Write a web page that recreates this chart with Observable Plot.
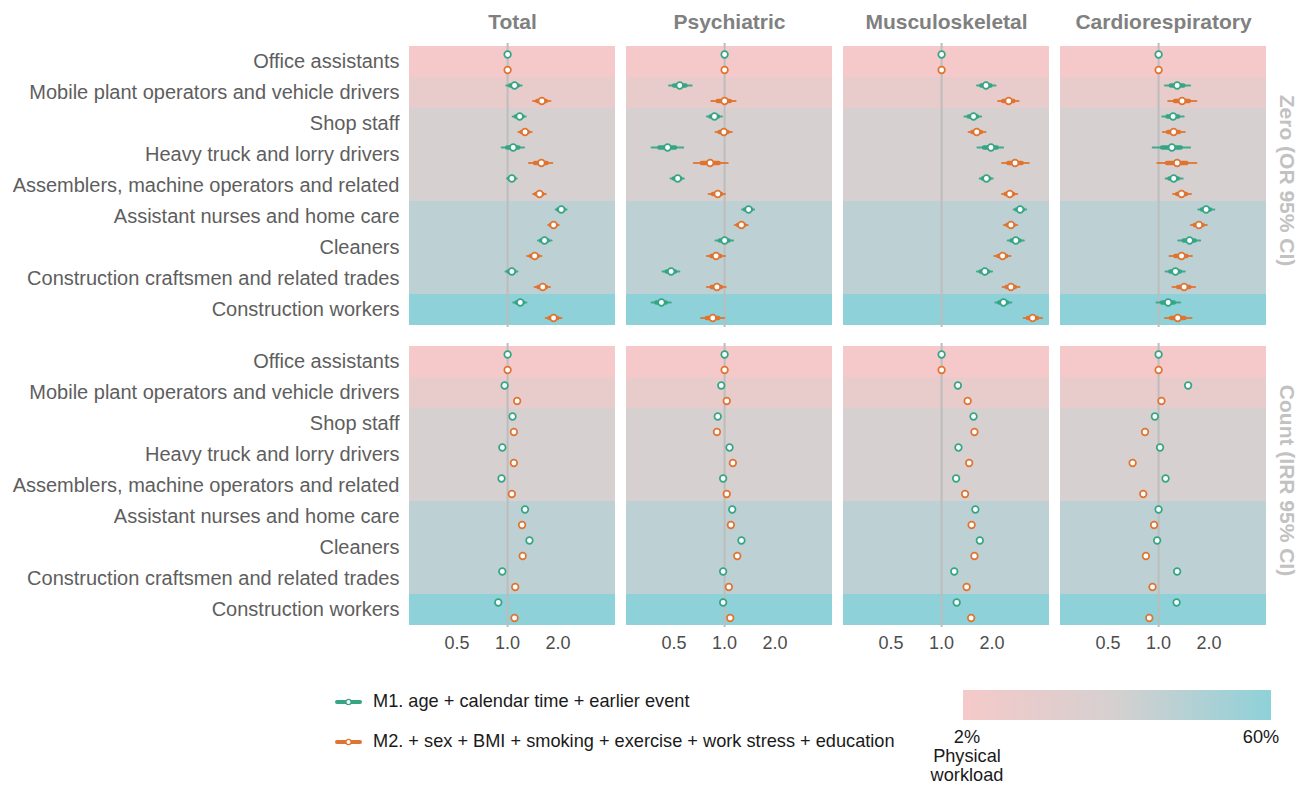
<!DOCTYPE html>
<html><head><meta charset="utf-8">
<script src="https://cdn.jsdelivr.net/npm/d3@7"></script>
<script src="https://cdn.jsdelivr.net/npm/@observablehq/plot@0.6"></script>
<style>
body{margin:0;background:#fff;font-family:"Liberation Sans",Arial,sans-serif;}
#wrap{position:relative;width:1311px;height:785px;overflow:hidden;}
.lg{position:absolute;font-size:18.2px;color:#1a1a1a;white-space:nowrap;}
</style></head><body>
<div id="wrap"><div id="chart"></div></div>
<script>
const occupations = ["Office assistants","Mobile plant operators and vehicle drivers","Shop staff","Heavy truck and lorry drivers","Assemblers, machine operators and related","Assistant nurses and home care","Cleaners","Construction craftsmen and related trades","Construction workers"];
const workload = [2, 14, 29, 29, 29, 41, 41, 41, 60];
const outcomes = ["Total","Psychiatric","Musculoskeletal","Cardiorespiratory"];
const rowTypes = ["Zero","Count"];
const rowLabels = ["Zero (OR 95% CI)","Count (IRR 95% CI)"];
const models = ["M1","M2"];
const modelLabels = ["M1. age + calendar time + earlier event","M2. + sex + BMI + smoking + exercise + work stress + education"];
const xTicks = [0.5, 1, 2];
const legendTicks = ["2%","60%"];

// Zero part: [estimate, lower 95%, upper 95%]
const zeroTotalM1 = [[1,1,1],[1.10,0.99,1.22],[1.18,1.08,1.29],[1.08,0.93,1.26],[1.06,1.00,1.14],[2.09,1.95,2.26],[1.66,1.53,1.84],[1.06,0.98,1.15],[1.19,1.09,1.30]];
const zeroTotalM2 = [[1,1,1],[1.60,1.43,1.81],[1.27,1.17,1.40],[1.59,1.35,1.86],[1.55,1.43,1.70],[1.88,1.76,2.03],[1.45,1.32,1.60],[1.62,1.46,1.80],[1.88,1.70,2.11]];
const zeroPsychM1 = [[1,1,1],[0.54,0.47,0.64],[0.87,0.79,0.97],[0.457,0.37,0.57],[0.525,0.48,0.575],[1.39,1.28,1.51],[1.0,0.89,1.13],[0.48,0.43,0.54],[0.42,0.37,0.48]];
const zeroPsychM2 = [[1,1,1],[1.0,0.84,1.17],[0.99,0.89,1.11],[0.82,0.66,1.05],[0.91,0.81,1.01],[1.26,1.16,1.38],[0.89,0.79,1.01],[0.90,0.79,1.02],[0.85,0.73,1.0]];
const zeroMuscM1 = [[1,1,1],[1.84,1.64,2.11],[1.55,1.38,1.73],[1.97,1.65,2.34],[1.85,1.70,2.03],[2.94,2.71,3.21],[2.77,2.50,3.11],[1.81,1.64,2.01],[2.34,2.11,2.62]];
const zeroMuscM2 = [[1,1,1],[2.51,2.19,2.90],[1.62,1.46,1.84],[2.74,2.31,3.33],[2.55,2.31,2.84],[2.59,2.37,2.84],[2.31,2.08,2.59],[2.59,2.33,2.93],[3.49,3.11,4.0]];
const zeroCardM1 = [[1,1,1],[1.29,1.10,1.55],[1.22,1.06,1.42],[1.20,0.93,1.55],[1.23,1.11,1.40],[1.92,1.74,2.16],[1.53,1.32,1.78],[1.26,1.11,1.44],[1.14,0.98,1.35]];
const zeroCardM2 = [[1,1,1],[1.38,1.15,1.69],[1.23,1.07,1.44],[1.29,0.99,1.69],[1.37,1.23,1.57],[1.74,1.57,1.95],[1.37,1.17,1.59],[1.42,1.22,1.66],[1.30,1.10,1.58]];

// Count part: estimate only
const countTotalM1 = [1.0,0.96,1.07,0.93,0.92,1.27,1.35,0.93,0.88];
const countTotalM2 = [1.0,1.14,1.09,1.09,1.06,1.22,1.23,1.11,1.10];
const countPsychM1 = [1.0,0.955,0.91,1.07,0.98,1.11,1.26,0.98,0.98];
const countPsychM2 = [1.0,1.03,0.90,1.12,1.03,1.09,1.19,1.06,1.08];
const countMuscM1 = [1.0,1.25,1.55,1.26,1.22,1.59,1.69,1.19,1.23];
const countMuscM2 = [1.0,1.43,1.57,1.46,1.38,1.51,1.57,1.41,1.50];
const countCardM1 = [1.0,1.50,0.95,1.02,1.10,1.0,0.98,1.29,1.28];
const countCardM2 = [1.0,1.04,0.83,0.70,0.81,0.94,0.84,0.92,0.88];

const zeroSets = {Total:[zeroTotalM1,zeroTotalM2],Psychiatric:[zeroPsychM1,zeroPsychM2],Musculoskeletal:[zeroMuscM1,zeroMuscM2],Cardiorespiratory:[zeroCardM1,zeroCardM2]};
const countSets = {Total:[countTotalM1,countTotalM2],Psychiatric:[countPsychM1,countPsychM2],Musculoskeletal:[countMuscM1,countMuscM2],Cardiorespiratory:[countCardM1,countCardM2]};

const modelColors = ["#35a584","#df7430"];
const rows = [];
outcomes.forEach(o => {
  models.forEach((m, mi) => {
    zeroSets[o][mi].forEach((v, i) => rows.push({fx:o, fy:"Zero", model:m, occ:occupations[i], est:v[0], lo:v[1], hi:v[2]}));
    countSets[o][mi].forEach((v, i) => rows.push({fx:o, fy:"Count", model:m, occ:occupations[i], est:v, lo:null, hi:null}));
  });
});
const bands = occupations.map((o, i) => ({occ:o, workload:workload[i]}));
const inner = d => ({lo2: d.est * Math.pow(d.lo / d.est, 0.5), hi2: d.est * Math.pow(d.hi / d.est, 0.5)});

const marks = [
  Plot.cell(bands, {y:"occ", fill:"workload", inset:0}),
  Plot.ruleX([1], {stroke:"#bdbdbd", strokeWidth:2})
];
models.forEach((m, mi) => {
  const dy = mi === 0 ? -7.5 : 8;
  const ci = rows.filter(d => d.model === m && d.lo != null && d.lo !== d.hi).map(d => ({...d, ...inner(d)}));
  const pts = rows.filter(d => d.model === m);
  marks.push(
    Plot.ruleY(ci, {fx:"fx", fy:"fy", y:"occ", x1:"lo", x2:"hi", dy, stroke:modelColors[mi], strokeWidth:2.2, strokeLinecap:"round", strokeOpacity:0.9}),
    Plot.ruleY(ci, {fx:"fx", fy:"fy", y:"occ", x1:"lo2", x2:"hi2", dy, stroke:modelColors[mi], strokeWidth:4.5, strokeLinecap:"round"}),
    Plot.dot(pts, {fx:"fx", fy:"fy", y:"occ", x:"est", dy, r:3.3, fill:"white", stroke:modelColors[mi], strokeWidth:1.7})
  );
});
marks.push(
  Plot.axisX({ticks:xTicks, tickFormat:d3.format(".1f"), tickSize:0, tickPadding:9, fontSize:18, fill:"#4d4d4d", label:null}),
  Plot.axisY({tickSize:0, tickPadding:10, fontSize:20, fill:"#5e5e5e", label:null}),
  Plot.text(outcomes.map(o => ({fx:o, fy:"Zero", t:o})), {fx:"fx", fy:"fy", text:"t", frameAnchor:"top", dy:-29, fontSize:21, fontWeight:"bold", fill:"#808080"}),
  Plot.text(rowTypes.map((r, i) => ({fx:"Cardiorespiratory", fy:r, t:rowLabels[i]})), {fx:"fx", fy:"fy", text:"t", frameAnchor:"right", textAnchor:"middle", rotate:90, dx:20, dy:-5, fontSize:21, fontWeight:"bold", fill:"#c2c2c2"})
);

const chart = Plot.plot({
  width:1311, height:675,
  marginLeft:407, marginRight:43, marginTop:43, marginBottom:47,
  style:{fontFamily:"'Liberation Sans', Arial, sans-serif", background:"white", overflow:"visible"},
  x:{type:"log", domain:[0.26, 4.4]},
  y:{domain:occupations, padding:0},
  fx:{domain:outcomes, padding:0.05, axis:null},
  fy:{domain:rowTypes, padding:0.053, axis:null},
  color:{type:"linear", domain:[2, 31, 60], range:["#f5c9c9","#d5d0d0","#8ed1d8"], interpolate:"rgb"},
  marks
});
document.getElementById("chart").appendChild(chart);

// Legend below the chart
const wrap = document.getElementById("wrap");
models.forEach((m, mi) => {
  const top = mi === 0 ? 702 : 742;
  const sw = document.createElementNS("http://www.w3.org/2000/svg", "svg");
  sw.setAttribute("width", 30); sw.setAttribute("height", 12);
  sw.style.position = "absolute"; sw.style.left = "334px"; sw.style.top = (top - 6) + "px";
  sw.innerHTML = `<line x1="3" x2="26" y1="6" y2="6" stroke="${modelColors[mi]}" stroke-width="4" stroke-linecap="round"/><circle cx="14.5" cy="6" r="2.6" fill="white" stroke="${modelColors[mi]}" stroke-width="1.3"/>`;
  wrap.appendChild(sw);
  const t = document.createElement("div");
  t.className = "lg"; t.textContent = modelLabels[mi];
  t.style.left = "373px"; t.style.top = (top - 11) + "px";
  wrap.appendChild(t);
});
const bar = document.createElement("div");
bar.style.cssText = "position:absolute;left:963px;top:690px;width:308px;height:30px;background:linear-gradient(to right,#f5c9c9,#d5d0d0,#8ed1d8);";
wrap.appendChild(bar);
const l1 = document.createElement("div");
l1.className = "lg"; l1.style.cssText = "left:925px;top:728px;width:84px;text-align:center;line-height:19px;";
l1.innerHTML = legendTicks[0] + "<br>Physical<br>workload";
wrap.appendChild(l1);
const l2 = document.createElement("div");
l2.className = "lg"; l2.style.cssText = "left:1226px;top:728px;width:70px;text-align:center;line-height:19px;";
l2.textContent = legendTicks[1];
wrap.appendChild(l2);
</script>
</body></html>
